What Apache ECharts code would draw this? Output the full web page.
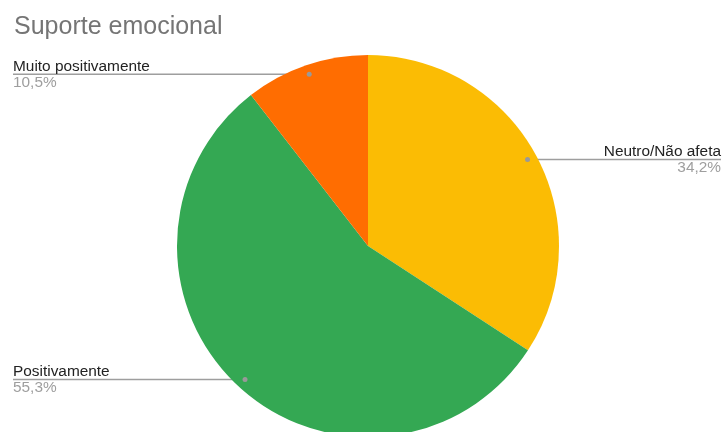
<!DOCTYPE html>
<html>
<head>
<meta charset="utf-8">
<script src="https://cdn.jsdelivr.net/npm/echarts@6/dist/echarts.min.js"></script>
<style>
  html, body { margin: 0; padding: 0; background: #ffffff; }
  #chart { width: 722px; height: 432px; }
</style>
</head>
<body>
<div id="chart"></div>
<script>
// Answer categories and their shares (%)
const categories = ['Neutro/Não afeta', 'Positivamente', 'Muito positivamente'];
const shares = [34.2, 55.3, 10.5];
const colors = ['#fbbc04', '#34a853', '#ff6d01'];

const CX = 368, CY = 246, R = 191;
const DOT_R = 0.95 * R;     // where each leader line starts, inside its slice
const EDGE_L = 13, EDGE_R = 721;

const total = shares.reduce((a, b) => a + b, 0);
const fmtPct = v => (v / total * 100).toFixed(1).replace('.', ',') + '%';

// Mid-angle of each slice, clockwise from 12 o'clock (radians)
function midAngle(i) {
  let before = 0;
  for (let k = 0; k < i; k++) before += shares[k];
  return (before + shares[i] / 2) / total * 2 * Math.PI;
}
function dotPoint(i) {
  const a = midAngle(i);
  return [CX + DOT_R * Math.sin(a), CY - DOT_R * Math.cos(a)];
}

const chart = echarts.init(document.getElementById('chart'), null, { renderer: 'canvas' });

const dots = categories.map((_, i) => {
  const p = dotPoint(i);
  return {
    type: 'circle',
    shape: { cx: p[0], cy: p[1], r: 2.5 },
    style: { fill: '#999999' },
    z: 100
  };
});

const FONT = 'Liberation Sans, Arial, sans-serif';

chart.setOption({
  animation: false,
  backgroundColor: '#ffffff',
  title: {
    text: 'Suporte emocional',
    left: 9,
    top: 10,
    textStyle: {
      fontFamily: FONT,
      fontSize: 25,
      fontWeight: 'normal',
      color: '#757575'
    }
  },
  graphic: dots,
  series: [{
    type: 'pie',
    center: [CX, CY],
    radius: [0, R],
    startAngle: 90,
    clockwise: true,
    data: categories.map((name, i) => ({
      name,
      value: shares[i],
      itemStyle: { color: colors[i] }
    })),
    label: {
      show: true,
      position: 'outside',
      formatter: p => '{n|' + p.name + '}\n{p|' + fmtPct(p.value) + '}',
      rich: {
        n: { fontFamily: FONT, fontSize: 15.4, color: '#222222', lineHeight: 16 },
        p: { fontFamily: FONT, fontSize: 15.4, color: '#9e9e9e', lineHeight: 16 }
      }
    },
    labelLine: {
      show: true,
      lineStyle: { color: '#9e9e9e', width: 1.5 }
    },
    labelLayout: function (params) {
      const i = params.dataIndex;
      const p = dotPoint(i);
      const left = Math.sin(midAngle(i)) < 0;
      const ex = left ? EDGE_L : EDGE_R;
      return {
        x: ex,
        y: p[1],
        align: left ? 'left' : 'right',
        verticalAlign: 'middle',
        labelLinePoints: [[p[0], p[1]], [p[0], p[1]], [ex, p[1]]]
      };
    },
    emphasis: { disabled: true }
  }]
});
</script>
</body>
</html>
